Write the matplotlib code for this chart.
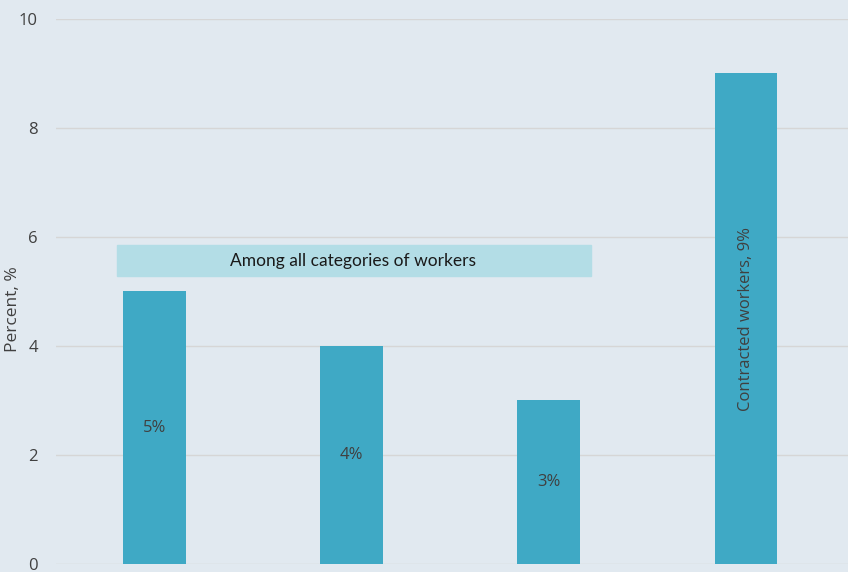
import numpy as np
import matplotlib.pyplot as plt

values = [5, 4, 3, 9]
labels = ["5%", "4%", "3%", "Contracted workers, 9%"]
rotations = [0, 0, 0, 90]
yticks = [0, 2, 4, 6, 8, 10]
note = "Among all categories of workers"

bg = "#e1e9f0"
bar_color = "#3fa9c5"
text_color = "#404040"

fig = plt.figure(figsize=(8.48, 5.72), dpi=100, facecolor=bg)
ax = fig.add_axes([0.066, 0.014, 0.934, 0.953], facecolor=bg)

x = np.arange(len(values))
ax.bar(x, values, width=0.315, color=bar_color, zorder=3)

for xi, v, lab, rot in zip(x, values, labels, rotations):
    ax.text(xi, v / 2, lab, ha="center", va="center", rotation=rot,
            fontsize=12, family="Open Sans", color=text_color, zorder=4)

# shaded note box spanning the first three bars
ax.add_patch(plt.Rectangle((-0.19, 5.28), 2.405, 0.57, color="#b3dde6",
                           zorder=2, clip_on=False))
ax.text(1.01, 5.565, note, ha="center", va="center", fontsize=12.5,
        family="Lato", color="#1a1a1a", zorder=4)

ax.set_xlim(-0.5, 3.52)
ax.set_ylim(0, 10)
ax.set_yticks(yticks)
ax.set_xticks([])
ax.grid(axis="y", color="#d6d6d6", linewidth=1, zorder=0)
for s in ax.spines.values():
    s.set_visible(False)
ax.tick_params(axis="y", length=0, pad=13, labelsize=12, labelcolor=text_color)
for t in ax.get_yticklabels():
    t.set_family("Open Sans")
ax.set_ylabel("Percent, %", fontsize=12.5, family="Open Sans", color=text_color)
ax.yaxis.set_label_coords(-0.044, 0.468)

fig.savefig("out.png", dpi=100, facecolor=bg)
